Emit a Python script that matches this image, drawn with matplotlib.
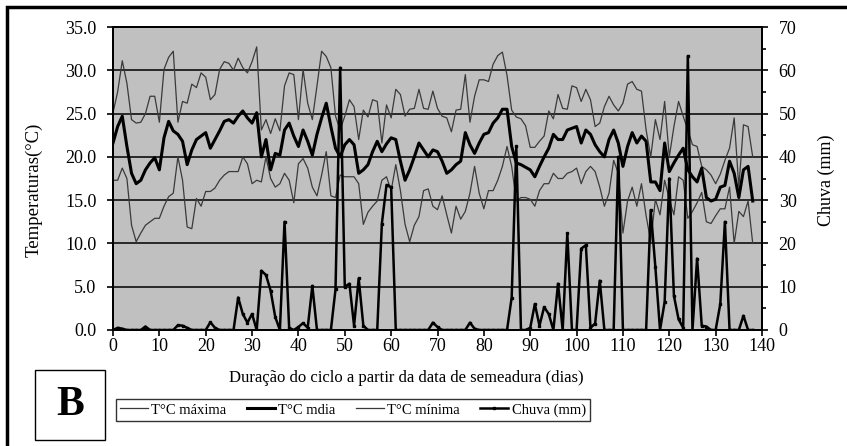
import numpy as np
import matplotlib
matplotlib.use('Agg')
import matplotlib.pyplot as plt
from matplotlib.patches import Rectangle

plt.rcParams['font.family'] = ['Liberation Serif', 'DejaVu Serif']

# daily values (days 0..138)
t_max = [25.1, 27.5, 31.1, 28.5, 24.3, 23.9, 24.0, 25.0, 27.0, 27.0,
         24.0, 30.1, 31.5, 32.2, 24.0, 26.4, 26.2, 28.4, 28.0, 29.7,
         29.2, 26.6, 27.2, 30.1, 31.0, 30.8, 30.0, 31.4, 30.3, 29.7,
         31.0, 32.7, 23.1, 24.3, 22.7, 24.4, 23.0, 28.2, 29.7, 29.5,
         24.3, 30.1, 26.2, 24.3, 28.2, 32.2, 31.6, 30.3, 24.7, 23.1,
         24.7, 26.6, 25.8, 22.0, 25.4, 24.6, 26.6, 26.4, 21.6, 26.0,
         24.5, 27.8, 27.2, 24.7, 25.5, 25.6, 27.8, 25.6, 25.5, 27.6,
         25.6, 24.7, 24.5, 22.9, 25.4, 25.5, 29.5, 24.0, 27.0, 28.9,
         28.9, 28.7, 30.7, 31.7, 32.1, 29.4, 25.4, 24.6, 24.4, 23.6,
         21.1, 21.1, 21.8, 22.4, 25.3, 24.4, 27.2, 25.6, 25.5, 28.2,
         28.0, 26.4, 27.8, 26.6, 23.5, 23.9, 25.8, 27.0, 26.0, 25.3,
         26.2, 28.4, 28.7, 27.8, 27.6, 23.1, 20.0, 24.3, 22.0, 26.4,
         20.0, 23.5, 26.4, 24.7, 23.1, 21.4, 21.2, 18.9, 18.5, 17.9,
         16.9, 18.0, 19.6, 21.0, 24.5, 16.5, 23.7, 23.5, 20.0]

t_med = [21.6, 23.5, 24.7, 21.2, 18.1, 16.9, 17.3, 18.5, 19.3, 19.9,
         18.5, 22.2, 24.1, 23.0, 22.6, 21.8, 19.1, 20.8, 22.0, 22.4,
         22.8, 21.0, 22.0, 23.0, 24.1, 24.3, 23.9, 24.7, 25.3, 24.5,
         23.9, 25.1, 20.0, 22.0, 18.5, 20.4, 20.2, 23.1, 23.9, 22.4,
         21.2, 23.1, 21.8, 20.2, 22.6, 24.5, 26.2, 23.5, 21.0, 20.0,
         21.4, 22.0, 21.4, 18.1, 18.5, 19.1, 20.6, 21.8, 20.6, 21.5,
         22.2, 22.0, 19.5, 17.3, 18.5, 20.0, 21.6, 20.8, 20.0, 20.8,
         20.6, 19.5, 18.1, 18.5, 19.1, 19.5, 22.8, 21.4, 20.4, 21.6,
         22.6, 22.8, 23.9, 24.5, 25.5, 25.5, 21.2, 19.3, 19.1, 18.8,
         18.5, 17.7, 18.9, 20.0, 21.0, 22.6, 22.0, 22.0, 23.1, 23.3,
         23.5, 21.6, 23.1, 22.6, 21.4, 20.6, 20.0, 22.0, 23.1, 21.6,
         18.9, 21.2, 22.8, 21.6, 22.4, 21.8, 17.1, 17.1, 16.1, 21.6,
         18.3, 19.3, 20.2, 21.0, 18.5, 17.7, 17.1, 18.7, 15.3, 14.9,
         15.1, 16.5, 16.7, 19.5, 18.1, 15.3, 18.5, 18.9, 14.9]

t_min = [17.3, 17.3, 18.7, 17.5, 12.1, 10.2, 11.2, 12.1, 12.5, 12.9,
         12.9, 14.3, 15.4, 15.8, 20.0, 17.3, 11.9, 11.7, 15.2, 14.3,
         16.0, 16.0, 16.4, 17.3, 17.9, 18.3, 18.3, 18.3, 20.0, 19.2,
         16.9, 17.3, 17.1, 20.0, 17.5, 16.5, 16.9, 18.1, 17.3, 14.7,
         19.2, 19.8, 18.7, 16.5, 15.5, 17.9, 20.6, 15.5, 15.3, 17.9,
         17.7, 17.7, 17.7, 16.9, 12.2, 13.6, 14.3, 14.9, 17.3, 17.7,
         16.1, 19.1, 16.1, 12.2, 10.2, 12.1, 13.1, 16.1, 16.3, 14.3,
         13.9, 15.5, 13.3, 11.2, 14.3, 12.8, 13.7, 15.8, 18.9, 15.8,
         14.0, 16.1, 16.1, 17.3, 18.9, 21.2, 18.9, 14.9, 15.3, 15.3,
         15.1, 14.3, 16.1, 16.9, 16.9, 18.1, 17.5, 17.5, 18.1, 18.3,
         18.7, 16.9, 18.3, 18.9, 18.3, 16.5, 14.3, 15.8, 19.6, 18.1,
         11.2, 14.9, 16.5, 14.3, 16.9, 13.2, 10.2, 15.1, 13.3, 17.3,
         15.1, 13.3, 17.7, 17.3, 12.9, 13.7, 14.7, 15.9, 12.5, 12.3,
         13.2, 14.0, 14.0, 16.5, 10.0, 13.7, 13.1, 14.9, 10.0]

chuva = [0.0, 0.5, 0.3, 0.0, 0.0, 0.0, 0.0, 0.8, 0.0, 0.0,
         0.0, 0.0, 0.0, 0.0, 1.1, 1.0, 0.5, 0.0, 0.0, 0.0,
         0.0, 1.8, 0.5, 0.0, 0.0, 0.0, 0.0, 7.5, 3.7, 1.7,
         3.7, 0.0, 13.7, 12.7, 9.1, 3.0, 0.0, 25.0, 0.5, 0.0,
         0.7, 1.6, 0.5, 10.2, 0.0, 0.0, 0.0, 0.0, 9.4, 60.6,
         10.0, 10.7, 1.0, 11.9, 1.0, 0.0, 0.0, 0.0, 24.6, 33.5,
         33.0, 0.0, 0.0, 0.0, 0.0, 0.0, 0.0, 0.0, 0.0, 1.7,
         0.7, 0.0, 0.0, 0.0, 0.0, 0.0, 0.0, 1.7, 0.3, 0.0,
         0.0, 0.0, 0.0, 0.0, 0.0, 0.0, 7.5, 42.4, 0.0, 0.0,
         0.5, 6.0, 1.0, 5.3, 3.7, 0.0, 10.7, 0.0, 22.3, 0.0,
         0.0, 18.8, 19.6, 0.5, 1.5, 11.4, 0.0, 0.0, 0.0, 40.0,
         0.0, 0.0, 0.0, 0.0, 0.0, 0.0, 27.7, 14.5, 0.0, 6.5,
         35.0, 7.9, 2.5, 0.5, 63.3, 0.0, 16.5, 1.0, 0.8, 0.0,
         0.0, 6.0, 25.0, 0.0, 0.0, 0.0, 3.3, 0.0, 0.0]

dias = np.arange(len(t_max))

fig = plt.figure(figsize=(8.47, 4.46), dpi=100)
W, H = 847, 446
ax = fig.add_axes([113 / W, 1 - 330 / H, (762 - 113) / W, (330 - 27) / H])
ax.set_facecolor('#c0c0c0')
ax2 = ax.twinx()

for y in np.arange(5, 36, 5):
    ax.axhline(y, color='black', lw=1.1, zorder=1)

l1, = ax.plot(dias, t_max, color='#3a3a3a', lw=0.9, label='T°C máxima', zorder=3)
l2, = ax.plot(dias, t_med, color='black', lw=2.2, label='T°C mdia', zorder=4)
l3, = ax.plot(dias, t_min, color='#3a3a3a', lw=0.9, label='T°C mínima', zorder=3)
l4, = ax2.plot(dias, chuva, color='black', lw=1.8, marker='s', markersize=1.8,
               label='Chuva (mm)', zorder=5)

ax.set_xlim(0, 140)
ax.set_ylim(0, 35)
ax2.set_ylim(0, 70)
ax.set_xticks(np.arange(0, 141, 10))
ax.set_yticks(np.arange(0, 36, 5))
ax.set_yticklabels([f'{v:.1f}' for v in np.arange(0, 36, 5)])
ax2.set_yticks(np.arange(0, 71, 10))
ax2.set_yticks(np.arange(0, 71, 5), minor=True)

for a in (ax, ax2):
    for s in a.spines.values():
        s.set_linewidth(1.4)
        s.set_color('black')
ax.tick_params(axis='x', labelsize=13, direction='out', length=4, width=1.2, pad=2)
ax.tick_params(axis='y', labelsize=13, direction='out', length=4, width=1.2, pad=8)
ax2.tick_params(axis='y', which='both', labelsize=13, direction='out', width=1.2, pad=8)
ax2.tick_params(axis='y', which='major', length=4)
ax2.tick_params(axis='y', which='minor', length=3)

ax.set_ylabel('Temperaturas(°C)', fontsize=13.5)
ax.yaxis.set_label_coords(-0.109, 0.462)
ax2.set_ylabel('Chuva (mm)', fontsize=13)
ax2.yaxis.set_label_coords(1.086, 0.495)
fig.text(406 / W, 1 - 378 / H, 'Duração do ciclo a partir da data de semeadura (dias)',
         ha='center', va='center', fontsize=12)

leg = fig.legend(handles=[l1, l2, l3, l4], loc='center', ncol=4,
                 bbox_to_anchor=(353 / W, 1 - 410 / H), fontsize=10.5,
                 frameon=True, fancybox=False, edgecolor='black',
                 handlelength=1.9, handletextpad=0.25, columnspacing=1.4,
                 borderpad=0.3)
leg.get_frame().set_linewidth(1.0)

# outer frame and the "B" panel tag
fig.patches.append(Rectangle((7 / W, -0.1), 1.2, 1 - 7 / H + 0.1, transform=fig.transFigure,
                             fill=False, edgecolor='black', lw=2.5))
fig.patches.append(Rectangle((35 / W, 1 - 440 / H), 70 / W, 70 / H, transform=fig.transFigure,
                             fill=False, edgecolor='black', lw=1.0))
fig.text(70 / W, 1 - 405 / H, 'B', ha='center', va='center', fontsize=30, fontweight='bold')

fig.savefig('out.png', dpi=100)
